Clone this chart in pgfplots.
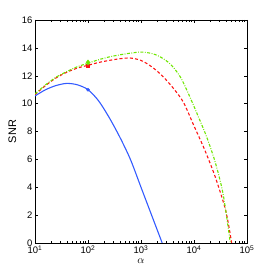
\documentclass[border=0pt]{standalone}
\usepackage{pgfplots}
\pgfplotsset{compat=1.18}
\usepackage{fontspec}
\setmainfont{Liberation Sans}
\definecolor{mblue}{RGB}{50,90,255}
\definecolor{mred}{RGB}{255,20,20}
\definecolor{mgreen}{RGB}{110,230,0}
\begin{document}
\begin{tikzpicture}[x=1bp,y=1bp]
\begin{axis}[
  name=ax,
  scale only axis,
  width=212bp, height=223bp,
  xmode=log, xmin=10, xmax=100000,
  ymin=0, ymax=16,
  ytick={0,2,...,16},
  xtick={10,100,1000,10000,100000},
  xticklabels={10\textsuperscript{1},10\textsuperscript{2},10\textsuperscript{3},10\textsuperscript{4},10\textsuperscript{5}},
  /pgf/number format/assume math mode=true,
  tick align=inside,
  major tick length=3bp, minor tick length=1.8bp,
  tick style={black, line width=0.4pt},
  axis line style={line width=0.6pt},
  ticklabel style={font=\fontsize{9.5}{10}\selectfont},
  xticklabel style={yshift=1bp},
  yticklabel style={xshift=1bp},
  label style={font=\fontsize{11}{12}\selectfont},
  xlabel={$\alpha$},
  ylabel={SNR},
  xlabel style={yshift=2bp},
  ylabel style={yshift=-1bp},
]
\addplot[mblue, line width=1.1pt, smooth] coordinates {
(10,10.55) (15.85,11.0) (25.12,11.3) (39.81,11.45) (63.1,11.35) (100,11.0)
(158.5,10.2) (251.2,9.0) (398.1,7.6) (631,6.0) (1000,4.0) (1585,2.0) (2512,0)
};
\addplot[mred, line width=1.1pt, smooth, dash pattern=on 3bp off 2.2bp] coordinates {
(10,10.65) (15.85,11.3) (25.12,11.85) (39.81,12.25) (63.1,12.55) (100,12.75)
(158.5,12.95) (251.2,13.1) (398.1,13.22) (631,13.27) (1000,13.1) (1585,12.65)
(2512,12.0) (3981,11.15) (6310,10.1) (10000,8.4) (15850,6.7) (25120,4.75)
(39810,2.3) (51300,0)
};
\addplot[mgreen, line width=1.1pt, smooth, dash pattern=on 3bp off 1.5bp on 0.8bp off 1.5bp] coordinates {
(10,10.7) (15.85,11.35) (25.12,11.9) (39.81,12.3) (63.1,12.65) (100,12.9)
(158.5,13.15) (251.2,13.35) (398.1,13.5) (631,13.62) (1000,13.7) (1585,13.6)
(2291,13.36) (3548,12.85) (5495,11.93) (8318,10.5) (12590,8.9) (17380,7.6)
(25120,5.8) (35480,3.5) (48500,0)
};
\addplot[mblue, only marks, mark=*, mark size=1.6bp] coordinates {(100,11.0)};
\addplot[mred, only marks, mark=square*, mark size=1.5bp] coordinates {(100,12.75)};
\addplot[mgreen, only marks, mark=diamond*, mark size=2.6bp] coordinates {(100,12.95)};
\end{axis}
\path ([xshift=-35bp,yshift=-31bp]ax.south west) rectangle ([xshift=26bp,yshift=20bp]ax.north east);
\end{tikzpicture}
\end{document}
